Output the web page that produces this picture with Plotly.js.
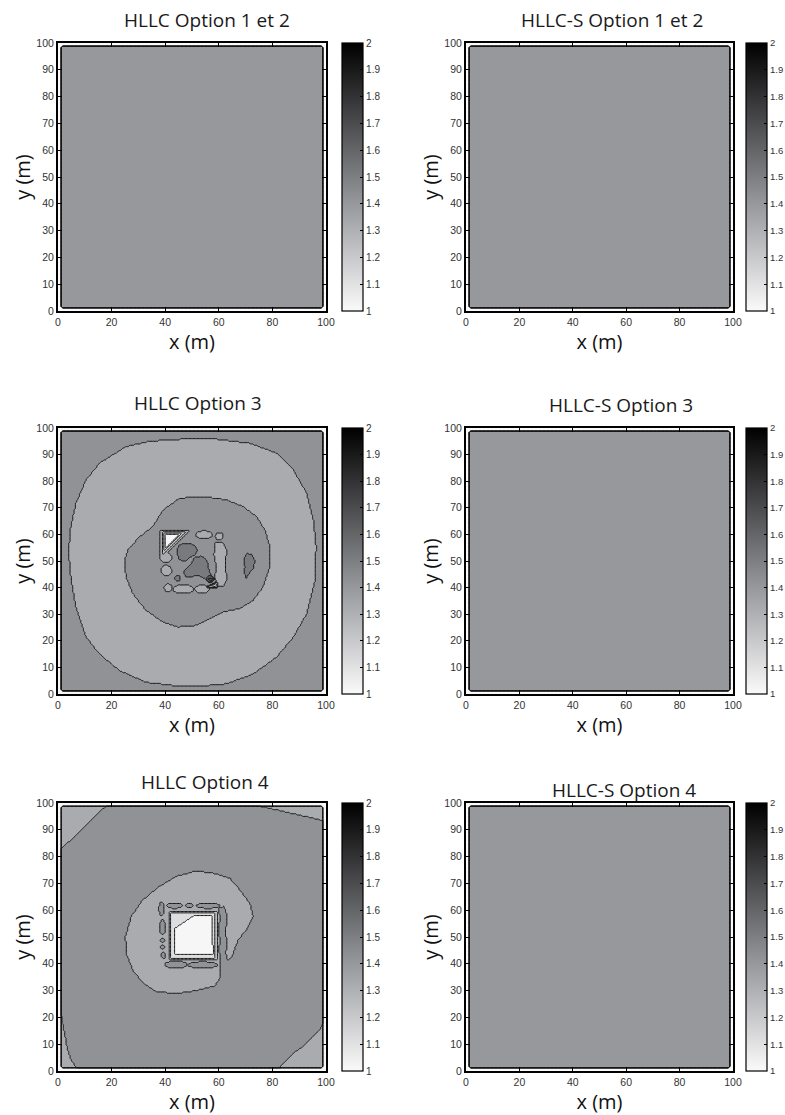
<!DOCTYPE html>
<html>
<head>
<meta charset="utf-8">
<script src="https://cdn.plot.ly/plotly-3.0.1.min.js"></script>
<style>
html,body{margin:0;padding:0;background:#fff;}
#chart{width:785px;height:1115px;}
</style>
</head>
<body>
<div id="chart"></div>
<script>
// ================= DATA (metres) =================
// Wet domain: square 1..99 m with rounded corners; outside it is dry
const wetBox = {lo: 1, hi: 99, r: 1.5};
const dryValue = 0;
// level code -> free-surface value
const levelValues = {'0': 1.0, '1': 1.1, '2': 1.2, '3': 1.3, '4': 1.4, '5': 1.5, '6': 1.6, '7': 1.7};
// value of the undisturbed field in every panel
const baseCode = '4';

// ---- HLLC Option 3 ----
const opt3OuterRing = [[34,95],[44,95.7],[51,95.9],[59,95.8],[71.5,94.3],[81.5,90.6],[87.8,84.3],
  [92.8,75.5],[95.3,65.4],[96.3,55.3],[95.9,42.8],[92.8,30.2],[87.8,21.4],[81.5,13.8],[72.8,7.5],
  [62.8,3.8],[51.6,2.8],[44,3.1],[32.9,4.4],[23,8.8],[15.5,15],[10.5,21.4],[6.7,32.7],[4.9,42.8],
  [4,52.8],[4.5,61.6],[6.7,71.7],[10.5,80.5],[15.5,86.8],[25.4,93]];
const opt3InnerRing = [[39.2,69.2],[45.4,73.6],[54.4,74.2],[62.8,73],[69.1,70.4],[74.1,66.7],
  [77.2,61.6],[79.1,55.3],[79.1,47.8],[76.6,40.3],[72.8,35.2],[67.8,32.1],[61.6,30.8],[56.6,28.3],
  [51.6,25.8],[44.8,25.2],[39.2,27],[32.9,31.4],[27.9,37.7],[25.4,44],[24.8,49.7],[26,54],
  [30.4,59.1],[35.4,62.9]];
const opt3RightColumn = [[58.5,56.8],[61.5,57],[62.9,54],[62.5,48],[63,43],[61.6,40.2],
  [59.5,40.6],[58.5,44],[59.1,48],[58.2,52]];
const opt3LightIslands = [[54.5,59.8,3.0,1.5],[60.2,59.3,1.5,1.4],[40.3,51.3,2.2,1.8],
  [40.4,46.4,2.0,2.0],[41.1,39.9,1.5,1.4],[46.8,39.4,3.9,1.6],[53.8,39.4,2.7,1.5]];
const opt3CornerTL3 = [[38.2,61.6],[49.2,61.6],[38.2,50.6]];
const opt3CornerTL2 = [[38.8,61.0],[47.6,61.0],[38.8,52.2]];
const opt3CornerTL1 = [[39.4,60.4],[46.3,60.4],[39.4,53.5]];
const opt3CornerTL0 = [[40.0,59.8],[45.0,59.8],[40.0,54.8]];
const opt3BlobUpper = [[45,56],[48,56.8],[51,56],[52.2,54],[51,52],[49,51.5],[47.5,49.8],[45.3,50.5],[44.4,53]];
const opt3BlobMain = [[51,51.6],[53.5,51.8],[55.5,50.5],[56,48.5],[56.5,46],[57.5,44.3],[57.8,42.8],
  [56,42.5],[54.5,43.5],[52,44.8],[49.5,44],[47.5,44.2],[46.8,46],[48.2,47.5],[49.5,48.5],[50.2,50]];
const opt3BlobRight = [[70.5,52.9],[72.5,52.3],[73.5,50],[73,47.5],[71.5,45.5],[70.3,43.6],[69.6,45.5],[69.8,48],[69.3,50.5]];
const opt3SpotSmall = [44.6,43.5,0.9,1.2];
const opt3SpotDark6 = [56.8,43.3,1.5,1.2];
const opt3SpotDark7 = [57.0,43.1,0.8,0.6];
const opt3CornerBR1 = [[55.2,40],[59.4,40],[59.4,42.2]];
const opt3CornerBR0 = [[56.8,40.3],[59.1,40.3],[59.1,41.6]];

// ---- HLLC Option 4 ----
const opt4CornerTL = [[0,100],[19.2,100],[19.2,99.6],[15.5,96.9],[11.7,93.1],[8,89.4],[4.2,85.7],[1,82.8],[0,82]];
const opt4CornerTR = [[72.8,100],[72.8,99.4],[80,97.8],[86.5,96.3],[91,95.3],[95.2,94.4],[99,93.2],[100,93],[100,100]];
const opt4CornerBL = [[0,21.5],[1.1,21.5],[1.6,18],[2.4,14.1],[3.1,10.5],[3.6,7.8],[4.9,4.1],[6.7,1.6],[7,0],[0,0]];
const opt4CornerBR = [[82.8,0],[82.8,1.6],[85.5,4.2],[87.8,6.6],[90.5,8.5],[92.8,10.3],[95,12.5],[96.5,14.1],[98,16],[99,17.8],[100,18],[100,0]];
const opt4Ring = [[44.1,72.6],[50.4,74.3],[52.9,74.5],[57.9,73.8],[64.1,72],[67.8,67.6],[71.6,62.6],
  [72.8,57.7],[70.3,52.7],[67.2,48.9],[65.8,45.2],[64.8,42.3],[63.4,41.3],[62.2,42.2],[61.2,43.5],
  [60.6,41.5],[60.4,38],[60.3,34.5],[58.5,31.8],[52.9,30.3],[47.5,29.3],[42.9,29],[36.7,29.6],
  [31.7,32.8],[27.9,37.7],[25.4,44],[25.2,50.2],[27.3,57.7],[31.7,63.9],[37.9,68.9]];
const opt4DarkIslands = [[38.6,60.5,0.9,2.6],[43.5,61.7,3.0,1.0],[49,61.6,1.3,0.8],[56,61.7,4.4,1.0],
  [39,53.6,1.1,2.8],[39,48.6,0.8,0.8],[39,46.2,0.8,0.9],[39.3,43.2,0.9,1.1],
  [44,39.7,4.2,1.3],[54,39.6,5.6,1.2]];
const opt4RightColumn = [[60.2,61],[62,61.3],[62.8,59],[63,55],[62.4,52],[63.2,48],[62.6,44],[63.2,42],
  [61.8,41.2],[60.5,42],[60.1,45],[60.4,48.5],[60,52],[60.3,56]];
const opt4Block2 = [[41.3,41.5],[59.4,41.5],[59.4,59.6],[41.3,59.6]];
const opt4Block1 = [[42,42.2],[58.7,42.2],[58.7,58.9],[42,58.9]];
const opt4Block0 = [[43.6,53.2],[51,58.2],[57.6,58.2],[57.8,43.6],[43.6,43.6]];

// painting order: [code, polygon] or [code, ellipse(cx, cy, rx, ry)]
const hllcOpt3Features = [
  ['3', opt3OuterRing], ['4', opt3InnerRing], ['3', opt3RightColumn]
].concat(opt3LightIslands.map(e => ['3', e])).concat([
  ['3', opt3CornerTL3], ['2', opt3CornerTL2], ['1', opt3CornerTL1], ['0', opt3CornerTL0],
  ['5', opt3BlobUpper], ['5', opt3BlobMain], ['5', opt3BlobRight], ['5', opt3SpotSmall],
  ['6', opt3SpotDark6], ['7', opt3SpotDark7], ['1', opt3CornerBR1], ['0', opt3CornerBR0]
]);
const hllcOpt4Features = [
  ['3', opt4CornerTL], ['3', opt4CornerTR], ['3', opt4CornerBL], ['3', opt4CornerBR], ['3', opt4Ring]
].concat(opt4DarkIslands.map(e => ['4', e])).concat([
  ['4', opt4RightColumn], ['2', opt4Block2], ['1', opt4Block1], ['0', opt4Block0]
]);

const panelTitles = ['HLLC Option 1 et 2', 'HLLC-S Option 1 et 2', 'HLLC Option 3',
  'HLLC-S Option 3', 'HLLC Option 4', 'HLLC-S Option 4'];
const panelFeatures = [[], [], hllcOpt3Features, [], hllcOpt4Features, []];

const xTicks = [0, 20, 40, 60, 80, 100];
const yTicks = [0, 10, 20, 30, 40, 50, 60, 70, 80, 90, 100];
const colorTicks = [1, 1.1, 1.2, 1.3, 1.4, 1.5, 1.6, 1.7, 1.8, 1.9, 2];
const colorTickText = ['1', '1.1', '1.2', '1.3', '1.4', '1.5', '1.6', '1.7', '1.8', '1.9', '2'];

// ================= STYLE =================
const grayMain = [[0, 'rgb(250,250,250)'], [0.4, 'rgb(151,152,156)'], [1, 'rgb(0,0,0)']];
const grayShift = [[0, 'rgb(246,246,247)'], [0.375, 'rgb(151,152,156)'], [1, 'rgb(2,2,2)']];
const panelScale = [grayMain, grayMain, grayShift, grayMain, grayShift, grayMain];

const colDomains = [[58 / 785, 326 / 785], [466 / 785, 733 / 785]];
const rowPix = [[43, 311], [428, 694], [803, 1071]];
const cbLeft = [342 / 785, 746 / 785];
const cbFont = [10, 9.5];
const titlePix = [[207, 20], [612, 20], [198, 403], [621, 405], [205, 782], [624, 790]];

// ================= BUILD THE GRID TABLE =================
const gridStep = 0.5;
const gridCoords = [0];
for (let v = gridStep / 2; v < 100; v += gridStep) gridCoords.push(v);
gridCoords.push(100);

function isWet(x, y) {
  const lo = wetBox.lo + wetBox.r, hi = wetBox.hi - wetBox.r;
  const dx = Math.max(lo - x, 0, x - hi), dy = Math.max(lo - y, 0, y - hi);
  return dx * dx + dy * dy <= wetBox.r * wetBox.r;
}
function inPoly(x, y, p) {
  let c = false;
  for (let a = 0, b = p.length - 1; a < p.length; b = a++) {
    const xa = p[a][0], ya = p[a][1], xb = p[b][0], yb = p[b][1];
    if ((ya > y) !== (yb > y) && x < (xb - xa) * (y - ya) / (yb - ya) + xa) c = !c;
  }
  return c;
}
function makeTest(shape) {
  if (typeof shape[0] === 'number') {
    const e = shape;
    return {x0: e[0] - e[2], x1: e[0] + e[2], y0: e[1] - e[3], y1: e[1] + e[3],
      f: (x, y) => { const dx = (x - e[0]) / e[2], dy = (y - e[1]) / e[3]; return dx * dx + dy * dy <= 1; }};
  }
  const xs = shape.map(p => p[0]), ys = shape.map(p => p[1]);
  return {x0: Math.min(...xs), x1: Math.max(...xs), y0: Math.min(...ys), y1: Math.max(...ys),
    f: (x, y) => inPoly(x, y, shape)};
}
function buildGrid(features) {
  const tests = features.map(f => ({code: f[0], t: makeTest(f[1])}));
  return gridCoords.map(y => gridCoords.map(x => {
    if (!isWet(x, y)) return dryValue;
    let code = baseCode;
    for (const ft of tests) {
      const t = ft.t;
      if (x >= t.x0 && x <= t.x1 && y >= t.y0 && y <= t.y1 && t.f(x, y)) code = ft.code;
    }
    return levelValues[code];
  }));
}

const tickFont = {family: 'Liberation Sans, Arial, sans-serif', size: 10.5, color: '#333'};
const axTitleFont = {family: 'Open Sans, sans-serif', size: 20, color: '#111'};

const data = [];
const layout = {
  width: 785, height: 1115,
  margin: {l: 0, r: 0, t: 0, b: 0, autoexpand: false},
  paper_bgcolor: '#fff', plot_bgcolor: '#fff',
  showlegend: false,
  annotations: []
};

for (let n = 0; n < 6; n++) {
  const col = n % 2, row = Math.floor(n / 2);
  const sfx = n === 0 ? '' : String(n + 1);
  const xa = 'x' + sfx, ya = 'y' + sfx;
  const top = rowPix[row][0], bot = rowPix[row][1];
  const yDom = [1 - bot / 1115, 1 - top / 1115];

  data.push({
    type: 'contour', x: gridCoords, y: gridCoords, z: buildGrid(panelFeatures[n]),
    xaxis: xa, yaxis: ya,
    autocontour: false,
    contours: {start: 1.05, end: 1.95, size: 0.1, coloring: 'fill', showlines: true},
    colorscale: panelScale[n], showscale: false,
    line: {color: '#151515', width: 1, smoothing: 1},
    hoverinfo: 'skip'
  });
  data.push({
    type: 'scatter', mode: 'markers', x: [null], y: [null], xaxis: xa, yaxis: ya,
    hoverinfo: 'skip', showlegend: false,
    marker: {
      color: [1], cmin: 1, cmax: 2, colorscale: grayMain, showscale: true,
      colorbar: {
        x: cbLeft[col], xanchor: 'left', xpad: 0,
        y: 1 - (top + bot) / 2 / 1115, yanchor: 'middle', ypad: 0,
        len: (bot - top) / 1115, lenmode: 'fraction',
        thickness: 21, thicknessmode: 'pixels',
        outlinewidth: 1.2, outlinecolor: '#000',
        tickvals: colorTicks, ticktext: colorTickText,
        ticks: 'inside', ticklen: 3, tickcolor: '#000',
        tickfont: {family: 'Liberation Sans, Arial, sans-serif', size: cbFont[col], color: '#333'}
      }
    }
  });

  layout['xaxis' + sfx] = {
    domain: colDomains[col], anchor: ya, range: [0, 100],
    tickvals: xTicks, ticks: 'inside', ticklen: 4, tickcolor: '#000',
    showline: true, linecolor: '#000', linewidth: 2, mirror: 'allticks',
    showgrid: false, zeroline: false, tickfont: tickFont,
    title: {text: 'x (m)', font: axTitleFont, standoff: 5}
  };
  layout['yaxis' + sfx] = {
    domain: yDom, anchor: xa, range: [0, 100],
    tickvals: yTicks, ticks: 'inside', ticklen: 4, tickcolor: '#000',
    showline: true, linecolor: '#000', linewidth: 2, mirror: 'allticks',
    showgrid: false, zeroline: false, tickfont: tickFont,
    title: {text: 'y (m)', font: axTitleFont, standoff: 0}
  };
  layout.annotations.push({
    text: panelTitles[n], xref: 'paper', yref: 'paper',
    x: titlePix[n][0] / 785, y: 1 - titlePix[n][1] / 1115,
    xanchor: 'center', yanchor: 'middle', showarrow: false,
    font: {family: 'Open Sans, sans-serif', size: 19, color: '#1a1a1a'}
  });
}

Plotly.newPlot('chart', data, layout, {displayModeBar: false, staticPlot: true});
</script>
</body>
</html>
